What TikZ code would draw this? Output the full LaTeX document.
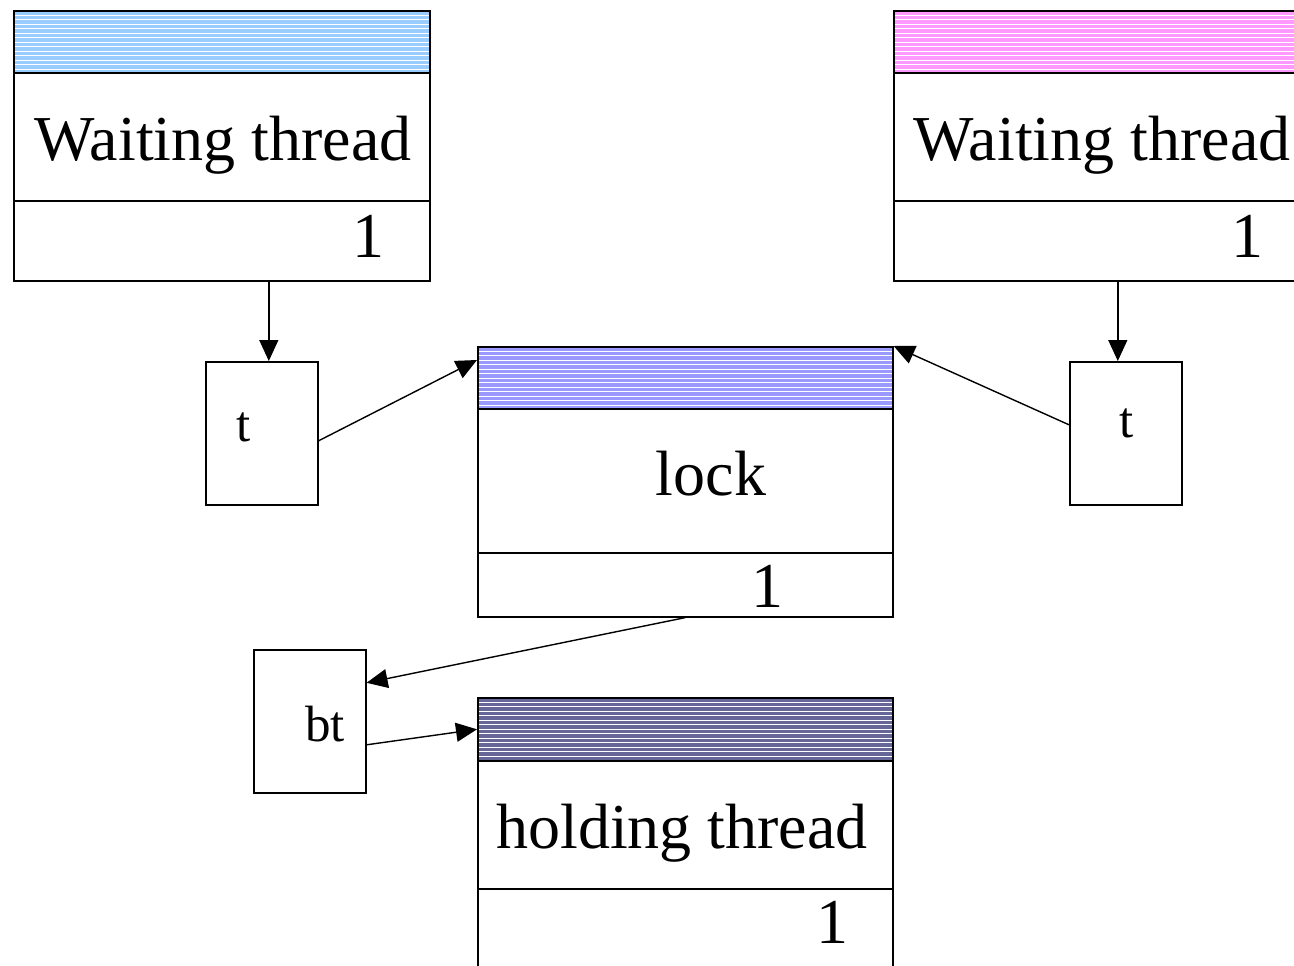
\documentclass[tikz,border=0pt]{standalone}
\usepackage{fontspec}
\setmainfont{Liberation Serif}
\usetikzlibrary{arrows.meta}
\definecolor{hblue}{HTML}{99CCFF}
\definecolor{hpink}{HTML}{FF99FF}
\definecolor{hlock}{HTML}{9999FF}
\definecolor{hhold}{HTML}{666699}
\tikzset{
  boxpart/.style={draw, line width=1.6pt, inner sep=0pt, anchor=north west, rectangle},
  hdr/.style={boxpart, fill=#1, minimum height=62pt,
    path picture={\foreach \k in {1,...,13}
      \draw[white, line width=0.9pt]
        ([yshift=-\k*4.5pt]path picture bounding box.north west) --
        ([yshift=-\k*4.5pt]path picture bounding box.north east);}},
  ptrbox/.style={boxpart, minimum width=112pt, minimum height=143pt},
  conn/.style={line width=1.4pt, -{Triangle[length=21pt,width=19pt]}},
  big/.style={font=\fontsize{64}{70}\selectfont, anchor=base, inner sep=0pt},
  small/.style={font=\fontsize{51}{56}\selectfont, anchor=base, inner sep=0pt}
}
\begin{document}
\begin{tikzpicture}[x=1pt, y=-1pt]
\useasboundingbox (0,0) rectangle (1294,966);
\clip (0,0) rectangle (1294,966);
\fill[white] (0,0) rectangle (1294,966);
% left waiting thread
\node[hdr=hblue, minimum width=416pt] (wl-h) at (13,10) {};
\node[boxpart, minimum width=416pt, minimum height=128pt] (wl-n) at (13,72) {};
\node[boxpart, minimum width=416pt, minimum height=80pt] (wl-b) at (13,200) {};
\node[big] (wl-t) at (223,160) {Waiting thread};
\node[big] (wl-1) at (368,257) {1};
% right waiting thread
\node[hdr=hpink, minimum width=416pt] (wr-h) at (893,10) {};
\node[boxpart, minimum width=416pt, minimum height=128pt] (wr-n) at (893,72) {};
\node[boxpart, minimum width=416pt, minimum height=80pt] (wr-b) at (893,200) {};
\node[big] (wr-t) at (1102,160) {Waiting thread};
\node[big] (wr-1) at (1247,257) {1};
% lock
\node[hdr=hlock, minimum width=415pt] (lk-h) at (477,346) {};
\node[boxpart, minimum width=415pt, minimum height=144pt] (lk-n) at (477,408) {};
\node[boxpart, minimum width=415pt, minimum height=64pt] (lk-b) at (477,552) {};
\node[big] (lk-t) at (711,495) {lock};
\node[big] (lk-1) at (767,607) {1};
% holding thread
\node[hdr=hhold, minimum width=415pt, minimum height=63pt] (hd-h) at (477,697) {};
\node[boxpart, minimum width=415pt, minimum height=128pt] (hd-n) at (477,760) {};
\node[boxpart, minimum width=415pt, minimum height=100pt] (hd-b) at (477,888) {};
\node[big] (hd-t) at (682,848) {holding thread};
\node[big] (hd-1) at (832,943) {1};
% pointer boxes
\node[ptrbox] (tl) at (205,361) {};
\node[small] (tl-t) at (244,441) {t};
\node[ptrbox] (tr) at (1069,361) {};
\node[small] (tr-t) at (1127,437) {t};
\node[ptrbox] (bt) at (253,649) {};
\node[small] (bt-t) at (325,741) {bt};
% connectors
\draw[conn] ([xshift=7pt]tl.north |- wl-b.south) -- ([xshift=7pt]tl.north);
\draw[conn] ([xshift=-8pt]tr.north |- wr-b.south) -- ([xshift=-8pt]tr.north);
\draw[conn] ([yshift=-7.5pt]tl.east) -- ([yshift=-14pt]lk-h.north west);
\draw[conn] ([yshift=8.5pt]tr.west) -- (lk-h.north east);
\draw[conn] (lk-b.south) -- ([yshift=38.5pt]bt.east);
\draw[conn] ([yshift=-23.5pt]bt.east) -- (hd-h.west);
\end{tikzpicture}
\end{document}
